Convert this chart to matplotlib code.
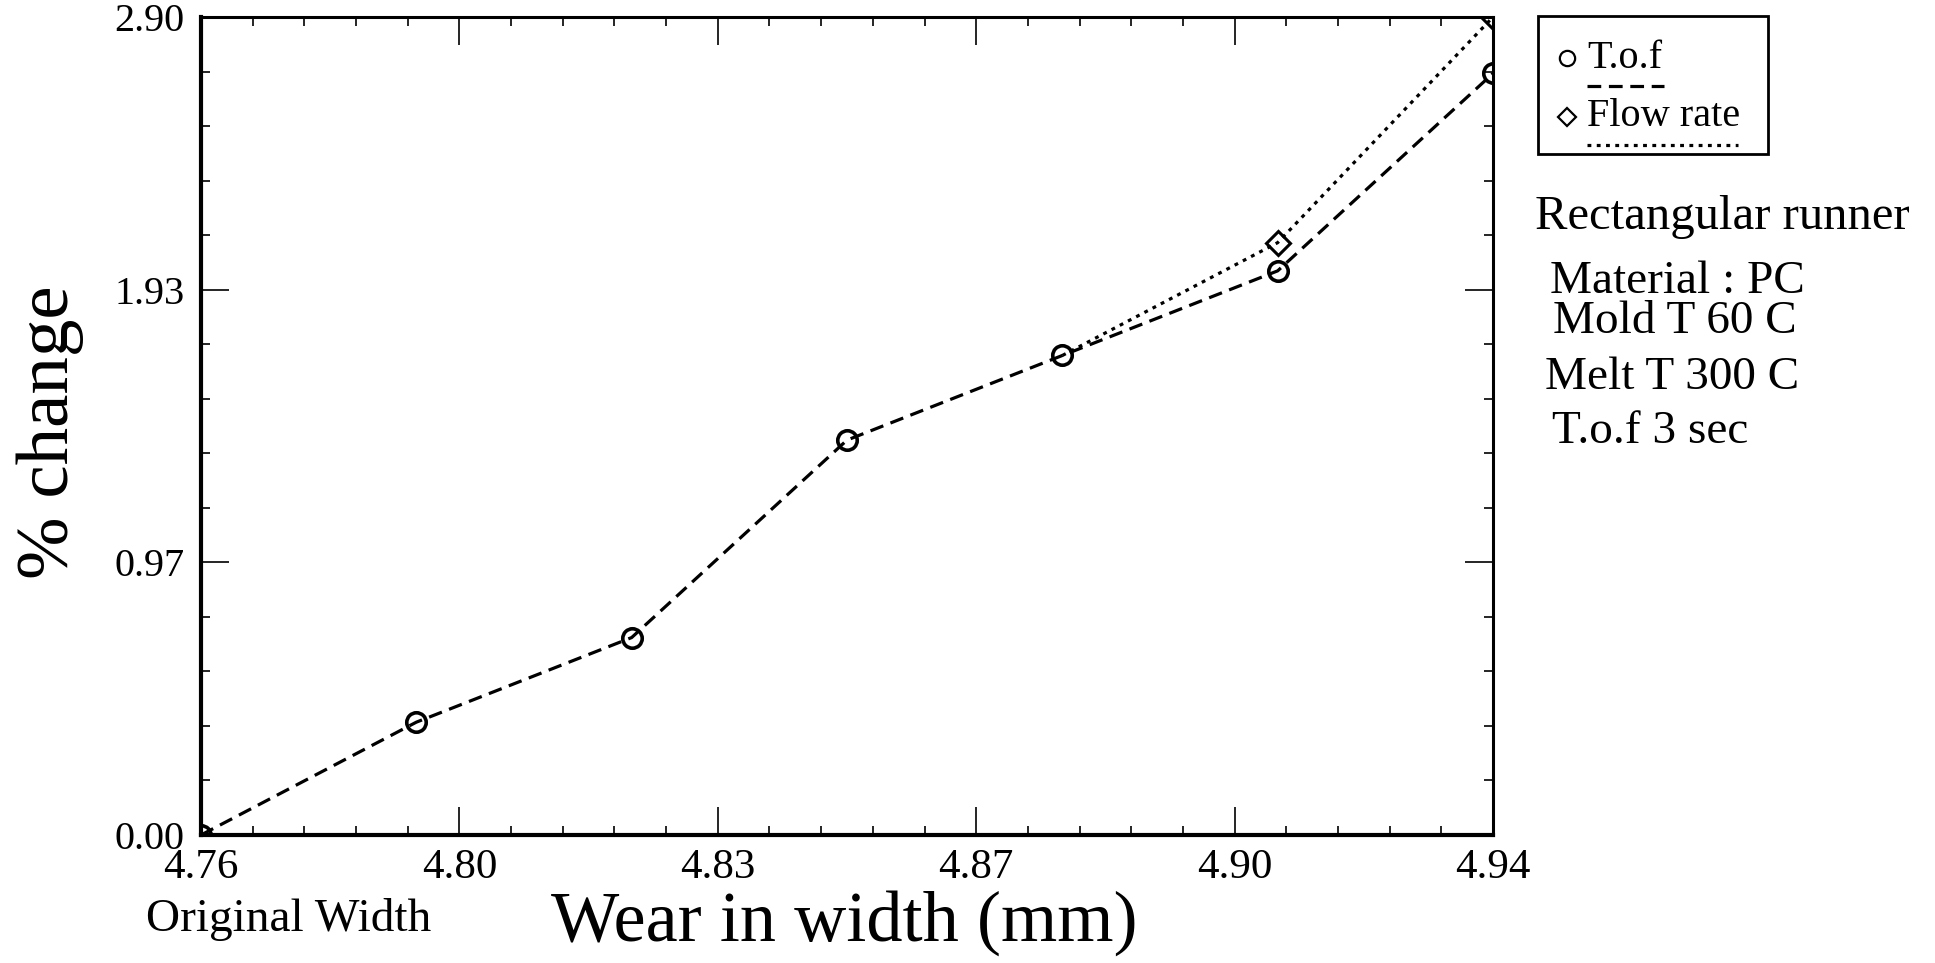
import numpy as np
import matplotlib
matplotlib.use("Agg")
import matplotlib.pyplot as plt
from matplotlib.ticker import FixedLocator, FormatStrFormatter, AutoMinorLocator
from matplotlib.lines import Line2D
from matplotlib.patches import Rectangle

plt.rcParams['font.family'] = ['Liberation Serif', 'DejaVu Serif']

# Runner width after wear (mm) and % change of the two responses
width_mm = [4.76, 4.79, 4.82, 4.85, 4.88, 4.91, 4.94]
tof_change = [0.00, 0.40, 0.70, 1.40, 1.70, 2.00, 2.70]
flow_change = [0.00, 0.40, 0.70, 1.40, 1.70, 2.10, 2.90]

x_ticks = np.linspace(4.76, 4.94, 6)
y_ticks = np.linspace(0.0, 2.90, 4)

legend_labels = ["T.o.f", "Flow rate"]
info_lines = ["Rectangular runner", "Material : PC", "Mold T 60 C",
              "Melt T 300 C", "T.o.f 3 sec"]

W, H = 1935, 963
fig = plt.figure(figsize=(W / 100, H / 100), dpi=100)


def fpos(px, py):
    """Pixel position (from top-left) to figure fraction."""
    return px / W, 1 - py / H


left, right, top, bottom = 201, 1493, 17, 835
ax = fig.add_axes([left / W, 1 - bottom / H, (right - left) / W, (bottom - top) / H])

dash_style = (0, (4.3, 2.4))
dot_style = (0, (1.2, 1.7))

# T.o.f curve: dashed with open circles
ax.plot(width_mm, tof_change, color='black', lw=2.3, linestyle=dash_style,
        marker='o', ms=14, mfc='none', mec='black', mew=2.6, zorder=3)

# Flow rate curve: dotted, drawn from where it separates from T.o.f
shared = [i for i in range(len(width_mm)) if flow_change[i] == tof_change[i]]
k = max(shared)
diff_idx = [i - k for i in range(k, len(width_mm)) if flow_change[i] != tof_change[i]]
ax.plot(width_mm[k:], flow_change[k:], color='black', lw=2.3, linestyle=dot_style,
        marker='D', ms=12, mfc='none', mec='black', mew=2.2, markevery=diff_idx,
        zorder=2)

ax.set_xlim(4.76, 4.94)
ax.set_ylim(0.0, 2.90)

ax.xaxis.set_major_locator(FixedLocator(x_ticks))
ax.yaxis.set_major_locator(FixedLocator(y_ticks))
ax.xaxis.set_major_formatter(FormatStrFormatter('%.2f'))
ax.yaxis.set_major_formatter(FormatStrFormatter('%.2f'))
ax.xaxis.set_minor_locator(AutoMinorLocator(5))
ax.yaxis.set_minor_locator(AutoMinorLocator(5))

ax.tick_params(which='both', direction='in', top=True, right=True, color='black')
ax.tick_params(which='major', length=20, width=1.2)
ax.tick_params(which='minor', length=6.5, width=1.2)
ax.tick_params(axis='x', which='major', labelsize=31, pad=10)
ax.tick_params(axis='y', which='major', labelsize=29, pad=12)

for side, sp in ax.spines.items():
    sp.set_color('black')
    sp.set_linewidth(3.0 if side in ('left', 'bottom') else 2.2)

ax.set_ylabel("% change", fontsize=54)
ax.yaxis.set_label_coords(-0.117, 0.493)
ax.yaxis.label.set_va('center')

ax.set_xlabel("Wear in width (mm)", fontsize=52)
ax.xaxis.set_label_coords(0.498, -0.108)
ax.xaxis.label.set_va('center')

fig.text(*fpos(146, 919), "Original Width", fontsize=34, ha='left', va='center')

# Legend box with marker + label and the line sample under each label
fig.patches.append(Rectangle(fpos(1538, 154), (1768 - 1538) / W, (154 - 16) / H,
                             transform=fig.transFigure, fill=False,
                             edgecolor='black', lw=2.0))
fig.lines.append(Line2D([fpos(1567, 58)[0]], [fpos(1567, 58)[1]], marker='o', ms=11,
                        mfc='none', mec='black', mew=1.6, transform=fig.transFigure))
fig.text(*fpos(1587, 58), legend_labels[0], fontsize=29, ha='left', va='center')
fig.lines.append(Line2D([fpos(1587, 86)[0], fpos(1664, 86)[0]],
                        [fpos(1587, 86)[1], fpos(1664, 86)[1]],
                        color='black', lw=2.3, linestyle=dash_style,
                        transform=fig.transFigure))
fig.lines.append(Line2D([fpos(1567, 117)[0]], [fpos(1567, 117)[1]], marker='D', ms=9,
                        mfc='none', mec='black', mew=1.6, transform=fig.transFigure))
fig.text(*fpos(1587, 117), legend_labels[1], fontsize=29, ha='left', va='center')
fig.lines.append(Line2D([fpos(1587, 145)[0], fpos(1738, 145)[0]],
                        [fpos(1587, 145)[1], fpos(1738, 145)[1]],
                        color='black', lw=2.3, linestyle=dot_style,
                        transform=fig.transFigure))

# Process conditions
info_pos = [(1535, 217), (1550, 282), (1553, 322), (1545, 378), (1552, 432)]
info_size = [35, 34, 34, 34, 34]
for txt, (px, py), fs in zip(info_lines, info_pos, info_size):
    fig.text(*fpos(px, py), txt, fontsize=fs, ha='left', va='center')

fig.savefig("out.png", dpi=100)
